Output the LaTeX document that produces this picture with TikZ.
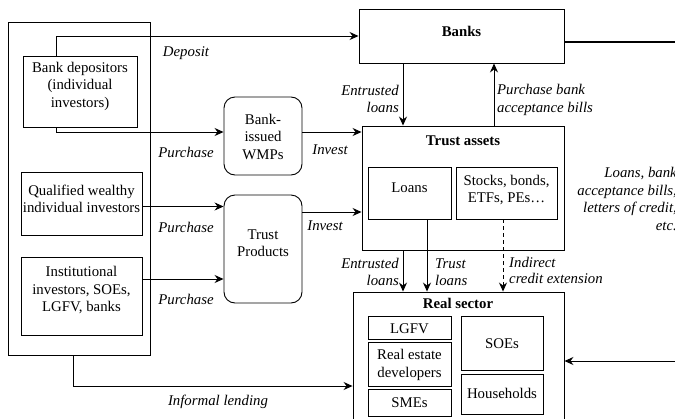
\documentclass[tikz,border=0pt]{standalone}
\usepackage{fontspec}
\setmainfont{Liberation Serif}
\usetikzlibrary{arrows.meta}
\begin{document}
\begin{tikzpicture}[x=1pt,y=-1pt,
  txt/.style={font=\fontsize{14.8}{17.5}\selectfont, inner sep=0pt, align=center},
  lbl/.style={font=\fontsize{14.8}{17.5}\selectfont\itshape, inner sep=0pt},
  ttl/.style={font=\fontsize{14.8}{17.5}\selectfont\bfseries, inner sep=0pt},
  box/.style={draw, line width=0.9pt, inner sep=0pt},
  rbox/.style={box, rounded corners=11pt},
  conn/.style={line width=0.9pt},
  arr/.style={conn, -{Stealth[length=9pt,width=8pt,inset=3pt]}}]
\useasboundingbox (0,0) rectangle (675,418);

% boxes
\node[box, minimum width=142, minimum height=333] (outer) at (79,188.5) {};
\node[box, minimum width=114, minimum height=71] (bd) at (80,91.5) {};
\node[box, minimum width=121, minimum height=63] (qw) at (81.5,203.5) {};
\node[box, minimum width=121, minimum height=78] (inst) at (81.5,296) {};
\node[rbox, minimum width=78, minimum height=78] (wmp) at (263,136) {};
\node[rbox, minimum width=78, minimum height=108] (tp) at (263,249) {};
\node[box, minimum width=205, minimum height=54] (banks) at (461.5,36) {};
\node[box, minimum width=202, minimum height=124] (trust) at (463,188) {};
\node[box, minimum width=83, minimum height=52] (loans) at (409.5,193) {};
\node[box, minimum width=101, minimum height=52] (stocks) at (506.5,193) {};
\node[box, minimum width=211, minimum height=138] (real) at (458.5,361) {};
\node[box, minimum width=83, minimum height=23] (lgfv) at (409.5,327.5) {};
\node[box, minimum width=83, minimum height=44] (re) at (409.5,364) {};
\node[box, minimum width=83, minimum height=27] (smes) at (409.5,402.5) {};
\node[box, minimum width=82, minimum height=54] (soes) at (502,343) {};
\node[box, minimum width=82, minimum height=40] (hh) at (502,394) {};

% texts
\node[txt] (tbd) at (80,86) {Bank depositors\\(individual\\investors)};
\node[txt] (tqw) at (81.5,199) {Qualified wealthy\\individual investors};
\node[txt] (tinst) at (81.5,290) {Institutional\\investors, SOEs,\\LGFV, banks};
\node[txt] (twmp) at (263,136.5) {Bank-\\issued\\WMPs};
\node[txt] (ttp) at (263,243) {Trust\\Products};
\node[ttl] (tbanks) at (461.5,31) {Banks};
\node[ttl] (ttrust) at (463,141) {Trust assets};
\node[txt] (tloans) at (409.5,188) {Loans};
\node[txt] (tstocks) at (506.5,190) {Stocks, bonds,\\ETFs, PEs\ldots};
\node[ttl] (treal) at (458,303) {Real sector};
\node[txt] (tlgfv) at (409.5,328.5) {LGFV};
\node[txt] (tre) at (409.5,365) {Real estate\\developers};
\node[txt] (tsmes) at (409.5,403) {SMEs};
\node[txt] (tsoes) at (502,344) {SOEs};
\node[txt] (thh) at (502,393) {Households};

% helper coordinates
\coordinate (xdep) at (56,0);
\coordinate (xinf) at (73,0);
\coordinate (xe) at (403,0);
\coordinate (xp) at (494,0);
\coordinate (xt) at (427,0);
\coordinate (xi) at (503,0);
\coordinate (rb) at (680,42);
\coordinate (rr) at (680,361);
\coordinate (yinf) at (0,386);

% connectors
\draw[arr] (bd.north -| xdep) |- (banks.west);
\draw[arr] (bd.south -| xdep) |- ([yshift=4pt]wmp.west);
\draw[arr] ([yshift=-3pt]qw.east) -- ([yshift=-3pt]qw.east -| tp.west);
\draw[arr] ([yshift=17pt]inst.east) -- ([yshift=17pt]inst.east -| tp.west);
\draw[arr] ([yshift=4pt]wmp.east) -- ([yshift=4pt]wmp.east -| trust.west);
\draw[arr] ([yshift=37pt]tp.east) -- ([yshift=37pt]tp.east -| trust.west);
\draw[arr] (banks.south -| xe) -- (trust.north -| xe);
\draw[arr] (trust.north -| xp) -- (banks.south -| xp);
\draw[conn, line width=1.6pt] (rb -| banks.east) -- (rb);
\draw[arr] (trust.south -| xe) -- (real.north -| xe);
\draw[arr] (loans.south -| xt) -- (real.north -| xt);
\draw[arr, dashed, dash pattern=on 4pt off 3pt] (stocks.south -| xi) -- (real.north -| xi);
\draw[arr] (rr) -- (rr -| real.east);
\draw[arr] (outer.south -| xinf) |- (yinf -| real.west);

% labels
\node[lbl] (ldep) at (186,53) {Deposit};
\node[lbl] (lp1) at (186,152) {Purchase};
\node[lbl] (lp2) at (186,227) {Purchase};
\node[lbl] (lp3) at (186,299) {Purchase};
\node[lbl] (li1) at (330,150) {Invest};
\node[lbl] (li2) at (325,226) {Invest};
\node[lbl] (linf) at (218,402) {Informal lending};
\node[lbl, anchor=east, align=right] (lent1) at (399,99) {Entrusted\\loans};
\node[lbl, anchor=west, align=left] (lpb) at (497,100) {Purchase bank\\acceptance bills};
\node[lbl, anchor=east, align=right] (lent2) at (399,272) {Entrusted\\loans};
\node[lbl, anchor=west, align=left] (ltl) at (435,272) {Trust\\loans};
\node[lbl, anchor=west, align=left, font=\fontsize{14.8}{16}\selectfont\itshape] (lind) at (509,270) {Indirect\\credit extension};
\node[lbl, anchor=east, align=right] (lright) at (677,199) {Loans, bank\\acceptance bills,\\letters of credit,\\etc.};
\end{tikzpicture}
\end{document}
